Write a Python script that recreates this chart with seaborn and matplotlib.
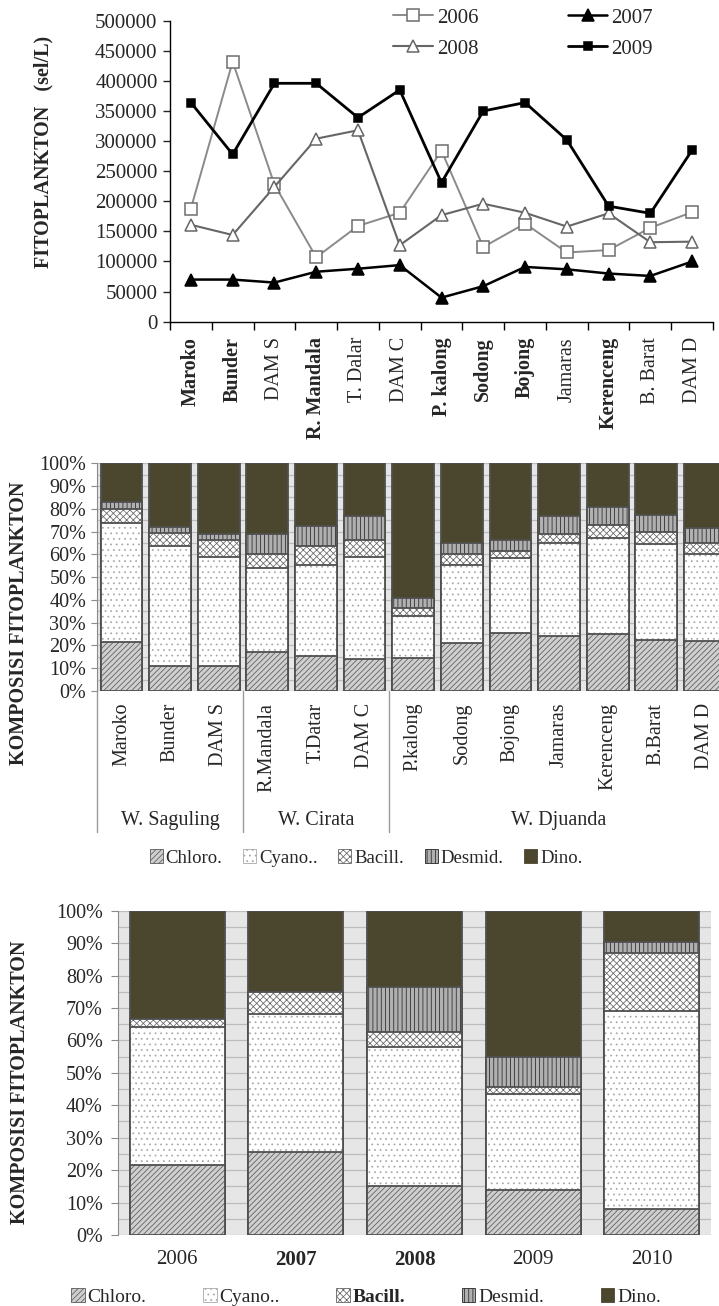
import numpy as np
import matplotlib
matplotlib.use('Agg')
import matplotlib.pyplot as plt
import seaborn as sns
from matplotlib.patches import Patch
from matplotlib.ticker import MultipleLocator, FixedLocator

# data grafik garis (sel/L)
lokasi = ['Maroko', 'Bunder', 'DAM S', 'R. Mandala', 'T. Dalar', 'DAM C', 'P. kalong',
          'Sodong', 'Bojong', 'Jamaras', 'Kerenceng', 'B. Barat', 'DAM D']
fito_2006 = [188000, 432000, 228000, 107000, 159000, 181000, 284000,
             124000, 163000, 115000, 119000, 156000, 182000]
fito_2007 = [70000, 70000, 65000, 83000, 88000, 94000, 40000,
             59000, 91000, 87000, 80000, 76000, 100000]
fito_2008 = [161000, 144000, 224000, 304000, 318000, 127000, 177000,
             196000, 181000, 158000, 180000, 132000, 133000]
fito_2009 = [364000, 278000, 396000, 396000, 339000, 385000, 231000,
             350000, 364000, 302000, 192000, 180000, 285000]

# komposisi per stasiun (%)
stasiun = ['Maroko', 'Bunder', 'DAM S', 'R.Mandala', 'T.Datar', 'DAM C', 'P.kalong',
           'Sodong', 'Bojong', 'Jamaras', 'Kerenceng', 'B.Barat', 'DAM D']
chloro_st = [21.5, 11, 11, 17, 15.5, 14, 14.5, 21, 25.5, 24, 25, 22.5, 22]
cyano_st = [52.5, 52.5, 48, 37, 40, 45, 18.5, 34.5, 33, 41, 42, 42, 38]
bacill_st = [6, 6, 7.5, 6, 8, 7.5, 3.5, 4.5, 3, 4, 6, 5.5, 5]
desmid_st = [3, 2.5, 2.5, 9, 9, 10.5, 4.5, 5, 5, 8, 8, 7.5, 6.5]
dino_st = [17, 28, 31, 31, 27.5, 23, 59, 35, 33.5, 23, 19, 22.5, 28.5]
waduk = ['W. Saguling', 'W. Cirata', 'W. Djuanda']

# komposisi per tahun (%)
tahun = ['2006', '2007', '2008', '2009', '2010']
chloro_th = [21.5, 25.5, 15, 14, 8]
cyano_th = [42.5, 42.5, 43, 29.5, 61]
bacill_th = [2.5, 7, 4.5, 2, 18]
desmid_th = [0, 0, 14, 9.5, 3.5]
dino_th = [33.5, 25, 23.5, 45, 9.5]

sns.set_style('ticks')
plt.rcParams['font.family'] = ['Liberation Serif', 'DejaVu Serif']
plt.rcParams['hatch.linewidth'] = 0.55

W, H = 719, 1306
fig = plt.figure(figsize=(W / 100, H / 100), dpi=100)

# ---------------- grafik garis ----------------
ax1 = fig.add_axes([170 / W, 1 - 321.7 / H, 543 / W, 301 / H])
gaya_garis = {
    '2006': dict(color='#8a8a8a', marker='s', markerfacecolor='white', markeredgecolor='#6e6e6e',
                 markersize=8, linewidth=1.4),
    '2007': dict(color='black', marker='^', markerfacecolor='black', markeredgecolor='black',
                 markersize=8, linewidth=1.8),
    '2008': dict(color='#666666', marker='^', markerfacecolor='white', markeredgecolor='#666666',
                 markersize=8.5, linewidth=1.5),
    '2009': dict(color='black', marker='s', markerfacecolor='black', markeredgecolor='black',
                 markersize=5.5, linewidth=2.0),
}
for th, nilai in zip(['2006', '2007', '2008', '2009'], [fito_2006, fito_2007, fito_2008, fito_2009]):
    sns.lineplot(x=lokasi, y=nilai, sort=False, label=th, markeredgewidth=1.1,
                 ax=ax1, **gaya_garis[th])
ax1.get_legend().remove()
ax1.set_ylim(0, 500000)
ax1.set_xlim(-0.5, len(lokasi) - 0.5)
ax1.set_yticks(np.arange(0, 500001, 50000))
ax1.set_xticks(range(len(lokasi)))
ax1.set_xticklabels(lokasi, rotation=90, va='top', fontsize=14.5)
tebal1 = {'Maroko', 'Bunder', 'R. Mandala', 'P. kalong', 'Sodong', 'Bojong', 'Kerenceng'}
for t in ax1.get_xticklabels():
    if t.get_text() in tebal1:
        t.set_fontweight('bold')
ax1.xaxis.set_minor_locator(FixedLocator(np.arange(-0.5, len(lokasi), 1)))
ax1.tick_params(axis='x', which='major', length=0, pad=11)
ax1.tick_params(axis='x', which='minor', length=6, width=1, color='black', direction='out')
ax1.tick_params(axis='y', length=5, width=1, direction='out', labelsize=15, pad=4)
for s in ['top', 'right']:
    ax1.spines[s].set_visible(False)
for s in ['left', 'bottom']:
    ax1.spines[s].set_color('black')
    ax1.spines[s].set_linewidth(1)
ax1.set_xlabel('')
fig.text(43 / W, 1 - 152 / H, 'FITOPLANKTON   (sel/L)', rotation=90, ha='center', va='center',
         fontsize=14.5, fontweight='bold')

h, l = ax1.get_legend_handles_labels()
urut = [0, 2, 1, 3]
fig.legend([h[i] for i in urut], [l[i] for i in urut], loc='upper left',
           bbox_to_anchor=(393 / W, 1 - 8 / H), ncol=2, frameon=False, fontsize=15,
           handlelength=1.9, handletextpad=0.2, columnspacing=4.3, labelspacing=0.55,
           borderaxespad=0, borderpad=0)

# ---------------- grafik batang bertumpuk ----------------
gaya = {
    'Chloro.': dict(fc='#cfcfcf', hatch='//////', hc='#5a5a5a'),
    'Cyano..': dict(fc='white', hatch='...', hc='#a8a8a8'),
    'Bacill.': dict(fc='white', hatch='xxxxx', hc='#666666'),
    'Desmid.': dict(fc='#b0b0b0', hatch='||||', hc='#262626'),
    'Dino.': dict(fc='#4b462e', hatch=None, hc='#4b462e'),
}


def komposisi(ax, kategori, lapisan, lebar):
    nama = list(lapisan.keys())
    kum = np.cumsum(np.array([lapisan[n] for n in nama], dtype=float), axis=0)
    for i in range(len(nama) - 1, -1, -1):
        g = gaya[nama[i]]
        sns.barplot(x=kategori, y=kum[i], color=g['fc'], hatch=g['hatch'], edgecolor=g['hc'],
                    linewidth=0, width=lebar, saturation=1, ax=ax)
        sns.barplot(x=kategori, y=kum[i], color='#4f4f4f', fill=False, linewidth=1.3,
                    width=lebar, ax=ax)
    ax.set_facecolor('#e6e6e6')
    ax.set_axisbelow(True)
    ax.set_ylim(0, 100)
    ax.set_xlim(-0.5, len(kategori) - 0.5)
    ax.set_yticks(np.arange(0, 101, 10))
    ax.set_yticklabels(['%d%%' % v for v in range(0, 101, 10)])
    ax.yaxis.set_minor_locator(MultipleLocator(5))
    ax.yaxis.grid(True, which='both', color='#bcbcbc', linewidth=0.9)
    ax.tick_params(axis='y', which='minor', length=0)
    for s in ['top', 'right', 'bottom']:
        ax.spines[s].set_visible(False)
    ax.spines['left'].set_color('#8a8a8a')
    ax.set_xlabel('')
    ax.set_ylabel('')


lapisan_st = {'Chloro.': chloro_st, 'Cyano..': cyano_st, 'Bacill.': bacill_st,
              'Desmid.': desmid_st, 'Dino.': dino_st}
ax2 = fig.add_axes([97.2 / W, 1 - 691 / H, 632 / W, 227.7 / H])
komposisi(ax2, stasiun, lapisan_st, 0.86)
ax2.set_xticks(range(len(stasiun)))
ax2.set_xticklabels(stasiun, rotation=90, va='top', fontsize=14.5)
ax2.tick_params(axis='x', length=0, pad=8.5)
ax2.tick_params(axis='y', length=4, color='#8a8a8a', labelsize=14.5, pad=4)

# garis pembatas waduk dan nama waduk
batas = [-0.5, 2.5, 5.5, 12.5]
trans = ax2.get_xaxis_transform()
for b in batas[:3]:
    ax2.plot([b, b], [0, -0.62], transform=trans, color='#9a9a9a', lw=1, clip_on=False)
for i, nm in enumerate(waduk):
    ax2.text((batas[i] + batas[i + 1]) / 2, -0.567, nm, transform=trans, ha='center',
             va='center', fontsize=14.5)
fig.text(19 / W, 1 - 623 / H, 'KOMPOSISI FITOPLANKTON', rotation=90, ha='center', va='center',
         fontsize=14.5, fontweight='bold')


def legenda(ypos, fs, cs, tebal):
    hs = [Patch(facecolor=gaya[n]['fc'], hatch=gaya[n]['hatch'], edgecolor=gaya[n]['hc'],
                linewidth=0.6) for n in gaya]
    lg = fig.legend(hs, list(gaya.keys()), loc='center', bbox_to_anchor=(366 / W, 1 - ypos / H),
                    ncol=5, frameon=False, fontsize=fs, handlelength=0.7, handleheight=0.7,
                    handletextpad=0.15, columnspacing=cs, borderaxespad=0, borderpad=0)
    for t in lg.get_texts():
        if t.get_text() in tebal:
            t.set_fontweight('bold')


legenda(858, 13.5, 1.1, set())

lapisan_th = {'Chloro.': chloro_th, 'Cyano..': cyano_th, 'Bacill.': bacill_th,
              'Desmid.': desmid_th, 'Dino.': dino_th}
ax3 = fig.add_axes([118 / W, 1 - 1235 / H, 593 / W, 324.3 / H])
komposisi(ax3, tahun, lapisan_th, 0.8)
ax3.set_xticks(range(len(tahun)))
ax3.set_xticklabels(tahun, fontsize=15)
for t in ax3.get_xticklabels():
    if t.get_text() in ('2007', '2008'):
        t.set_fontweight('bold')
ax3.tick_params(axis='x', length=0, pad=11)
ax3.tick_params(axis='y', length=5, color='#8a8a8a', labelsize=14.5, pad=6)
fig.text(20 / W, 1 - 1082 / H, 'KOMPOSISI FITOPLANKTON', rotation=90, ha='center', va='center',
         fontsize=14.5, fontweight='bold')
legenda(1297, 14, 2.9, {'Bacill.'})

fig.savefig('out.png', dpi=100)
